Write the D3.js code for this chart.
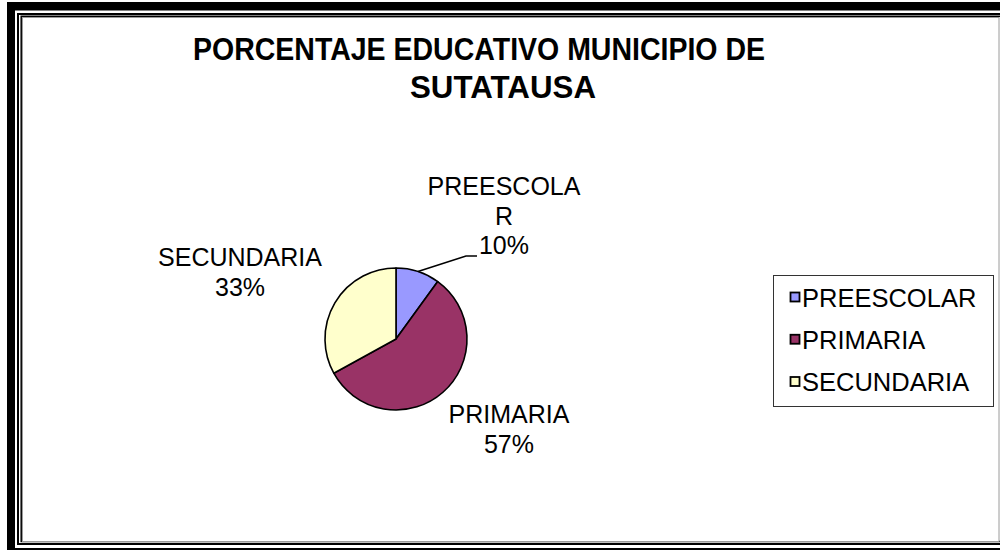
<!DOCTYPE html>
<html>
<head>
<meta charset="utf-8">
<script src="https://cdn.jsdelivr.net/npm/d3@7"></script>
<style>
  html, body { margin: 0; padding: 0; background: #fff; }
  svg { display: block; }
  text { font-family: "Liberation Sans", Arial, sans-serif; fill: #000; }
</style>
</head>
<body>
<div id="chart"></div>
<script>
// Education levels and their share of enrolment
const categories = ["PREESCOLAR", "PRIMARIA", "SECUNDARIA"];
const percentages = [10, 57, 33];
const titleLines = ["PORCENTAJE EDUCATIVO MUNICIPIO DE", "SUTATAUSA"];
// Wrapped label text as it appears next to each slice
const labelLines = [["PREESCOLA", "R"], ["PRIMARIA"], ["SECUNDARIA"]];

const sliceColors = ["#9999FF", "#993366", "#FFFFCC"];

const W = 1000, H = 550;
const svg = d3.select("#chart").append("svg")
  .attr("width", W).attr("height", H);

// ---- framed border around the chart object ----
svg.append("path")
  .attr("fill", "#000")
  .attr("fill-rule", "evenodd")
  .attr("d", "M7,2H1100V600H7Z M15,10.5V548H1100V10.5Z");
svg.append("path")
  .attr("fill", "none").attr("stroke", "#000").attr("stroke-width", 2)
  .attr("d", "M1100,14H18V544H1100");
svg.append("path")
  .attr("fill", "none").attr("stroke", "#000").attr("stroke-width", 1.5)
  .attr("d", "M1100,16.2H21.2V541.5H1100");
svg.append("rect")
  .attr("x", 22.5).attr("y", 17.5).attr("width", 976.5).attr("height", 524)
  .attr("fill", "#fff").attr("stroke", "#9a9a9a").attr("stroke-width", 1);

// ---- title ----
const titleG = svg.append("g").attr("font-weight", "bold").attr("font-size", 32);
const titleLayout = [{x: 479, y: 60, len: 572}, {x: 503, y: 98, len: 186}];
titleG.selectAll("text").data(titleLines).join("text")
  .attr("x", (d, i) => titleLayout[i].x)
  .attr("y", (d, i) => titleLayout[i].y)
  .attr("text-anchor", "middle")
  .attr("textLength", (d, i) => titleLayout[i].len)
  .attr("lengthAdjust", "spacingAndGlyphs")
  .text(d => d);

// ---- pie ----
const cx = 396, cy = 339, radius = 71;
const data = categories.map((c, i) => ({ name: c, value: percentages[i], idx: i }));
const pie = d3.pie().value(d => d.value).sort(null);
const arcs = pie(data);
const arc = d3.arc().innerRadius(0).outerRadius(radius);

const pieG = svg.append("g").attr("transform", `translate(${cx},${cy})`);
pieG.selectAll("path").data(arcs).join("path")
  .attr("d", arc)
  .attr("fill", d => sliceColors[d.data.idx])
  .attr("stroke", "#000")
  .attr("stroke-width", 1.6)
  .attr("stroke-linejoin", "round");

// ---- data labels (name + percent) ----
const fmtPct = d3.format(".0%");
const total = d3.sum(percentages);
const labelPos = [
  { dx: 108, top: -144 },   // above right
  { dx: 113, top: 84 },     // below right
  { dx: -156, top: -73 }    // left
];
const lineGap = 29.5;
const labG = pieG.append("g").attr("font-size", 25);
arcs.forEach((a, i) => {
  const lines = labelLines[i].concat([fmtPct(a.data.value / total)]);
  const t = labG.append("text").attr("text-anchor", "middle");
  lines.forEach((ln, k) => {
    t.append("tspan")
      .attr("x", labelPos[i].dx)
      .attr("y", labelPos[i].top + k * lineGap)
      .text(ln);
  });
});

// leader line from the small slice to its label
const small = arcs[0];
const mid = (small.startAngle + small.endAngle) / 2;
const p0 = [Math.sin(mid) * radius, -Math.cos(mid) * radius];
pieG.append("path")
  .attr("fill", "none").attr("stroke", "#000").attr("stroke-width", 1.6)
  .attr("d", d3.line()([p0, [70, -83], [81, -83]]));

// ---- legend ----
const lg = svg.append("g");
lg.append("rect")
  .attr("x", 773.5).attr("y", 275.5).attr("width", 220).attr("height", 131)
  .attr("fill", "#fff").attr("stroke", "#333").attr("stroke-width", 1);
const legY = d3.scalePoint().domain(categories).range([297.5, 382]);
const items = lg.selectAll("g.item").data(categories).join("g").attr("class", "item");
items.append("rect")
  .attr("x", 790.5).attr("y", d => legY(d) - 5)
  .attr("width", 9).attr("height", 9)
  .attr("fill", (d, i) => sliceColors[i])
  .attr("stroke", "#000").attr("stroke-width", 1.8);
items.append("text")
  .attr("x", 802).attr("y", d => legY(d) + 9)
  .attr("font-size", 25.5)
  .text(d => d);
</script>
</body>
</html>
